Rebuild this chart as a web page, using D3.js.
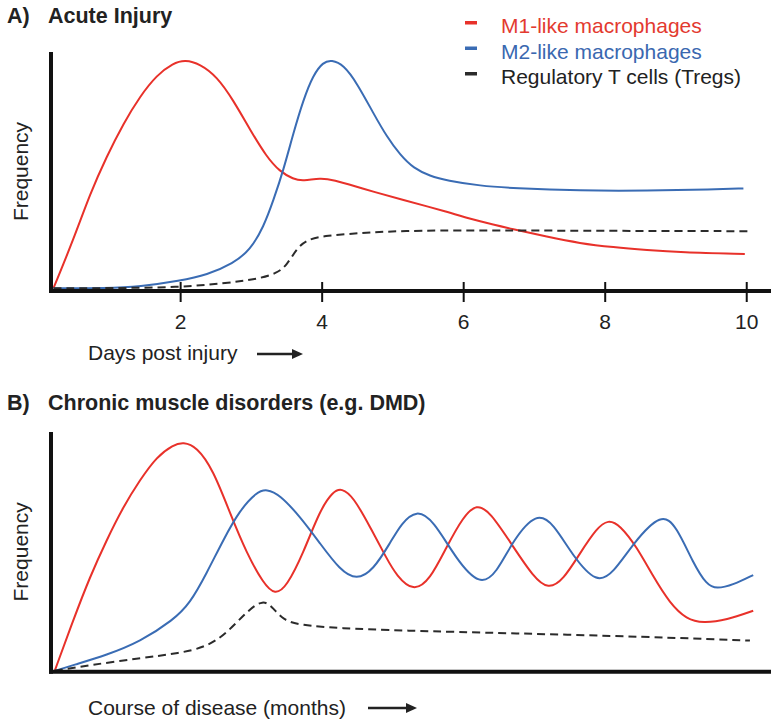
<!DOCTYPE html>
<html>
<head>
<meta charset="utf-8">
<script src="https://cdn.jsdelivr.net/npm/d3@7"></script>
<style>
  body { margin: 0; background: #fff; }
  svg { display: block; font-family: 'Liberation Sans', Arial, sans-serif; }
  .title { font-weight: bold; font-size: 21.5px; fill: #222; }
  .label { font-size: 21px; fill: #222; }
  .curve { fill: none; stroke-width: 2; }
</style>
</head>
<body>
<svg width="771" height="722"></svg>
<script>
// ---- data: [x, frequency] ----
// A) acute injury, x = days post injury
const acuteM1 = [[0.21,1.2],[0.49,22.2],[0.73,42.5],[0.96,58.4],[1.2,72.9],[1.43,84.5],[1.67,93.9],[1.9,99],
  [2.07,100.5],[2.28,98.7],[2.52,93.2],[2.75,83],[2.99,70],[3.22,58.4],[3.41,51.9],[3.6,48.6],[3.74,47.8],
  [3.98,49.2],[4.17,48.3],[4.5,45.3],[4.73,43.2],[5.11,39.9],[5.77,34.5],[6.24,30.1],[6.71,26.8],[7.18,23.6],
  [7.65,20.7],[8.12,19],[8.6,17.8],[9.07,16.8],[9.98,16.1]];
const acuteM2 = [[0.21,1.2],[0.96,1.2],[1.43,1.9],[2,4.5],[2.38,7],[2.75,12],[2.99,17.8],[3.18,27.9],
  [3.32,39.6],[3.46,52.6],[3.6,68.6],[3.74,83],[3.88,93.9],[4.02,99.5],[4.14,100.5],[4.31,98.3],[4.5,90.3],
  [4.73,77.3],[4.92,67.1],[5.11,59.1],[5.3,53.3],[5.53,50],[5.77,48],[6.24,45.7],[6.71,44.7],[7.65,43.6],
  [8.6,43.6],[9.54,44.2],[9.96,44.6]];
const acuteTregs = [[0.21,1.2],[0.96,1.2],[2,1.6],[2.61,3.3],[3.08,5.1],[3.37,7.7],[3.51,11.3],[3.65,18.6],
  [3.79,22.2],[4.02,24],[4.5,25.1],[5.11,26.2],[6.24,26.4],[7.5,26.2],[10.03,26]];
const dayTicks = [2, 4, 6, 8, 10];

// B) chronic disorders, x = course of disease (arbitrary units)
const chronicM1 = [[0,0.7],[2.61,22.6],[5,41.6],[7.39,57.7],[9.76,72.2],[12.14,83.9],[14.53,94.1],[16.9,99.3],
  [18.33,100.5],[20.24,98.5],[22.61,88.3],[25,69.4],[27.39,51.8],[29.76,38.7],[31.43,33.5],[33.1,37.2],
  [35.47,51.8],[37.86,70.8],[39.76,79],[40.96,80.3],[42.61,76.6],[45,63.5],[47.39,49.5],[48.81,42],
  [51.19,35],[53.57,40.1],[55.96,54.7],[58.33,67.9],[60.24,73.4],[62.14,70.1],[65.47,54.7],[68.33,41.6],
  [70.47,36],[72.61,40.1],[75,51.8],[77.39,62.8],[79.04,66.6],[80.71,64.2],[83.1,54.7],[85.47,41.6],
  [87.86,29.9],[90.24,22.9],[92.61,21.3],[95.96,22.6],[99.76,26.7]];
const chronicM2 = [[0,0.4],[2.61,2.9],[7.39,7.3],[12.14,13.1],[16.9,22.6],[19.29,29.9],[21.67,43.1],
  [24.04,57.7],[26.43,70.8],[28.81,78.6],[30.24,80],[32.14,77.4],[35,67.9],[37.86,56.2],[40.71,44.5],
  [43.1,40],[45.47,44.5],[47.86,56.2],[49.5,65],[51.67,70.9],[54.04,66.4],[57.39,48.9],[60.71,37.6],
  [63.1,43.1],[65.47,57.7],[68.81,69.8],[71.19,65],[74.04,50.4],[77.39,38.6],[79.76,43.1],[82.61,56.2],
  [86.67,69.8],[88.81,63.5],[91.19,47.5],[93.1,38],[94.53,36.2],[96.9,38],[99.76,42.3]];
const chronicTregs = [[0,0.4],[5,2.9],[12.14,5.9],[17.86,8.1],[21.67,10.9],[24.53,16.8],[27.39,26.3],
  [29.76,31.8],[31.19,27.8],[32.61,22.6],[35,20.4],[40.71,19],[49.29,18],[65.47,16.8],[84.53,15.3],[99.29,13.6]];

const seriesNames = ['M1-like macrophages', 'M2-like macrophages', 'Regulatory T cells (Tregs)'];
const seriesColors = ['#e8312a', '#3a6cb4', '#2b2b2b'];
const legendTextColors = ['#e33a2f', '#3a68b0', '#222'];

const svg = d3.select('svg');

const drawPanel = (opts) => {
  const { x, y, series, xLabel, labelY, arrow, ticks } = opts;
  const g = svg.append('g');

  const line = d3.line()
    .x(d => x(d[0]))
    .y(d => y(d[1]))
    .curve(d3.curveBasis);

  series.forEach((s, i) => {
    g.append('path')
      .attr('class', 'curve')
      .attr('d', line(s))
      .attr('stroke', seriesColors[i])
      .attr('stroke-width', i === 2 ? 2.5 : 2)
      .attr('stroke-dasharray', i === 2 ? '8,5' : null);
  });

  // axes
  const [x0, x1] = x.range();
  const [yBase, yTop] = y.range();

  const xAxis = d3.axisBottom(x).tickValues(ticks || []).tickSize(20).tickPadding(6).tickFormat(d3.format('d'));
  const xAxisG = g.append('g').attr('transform', `translate(0,${yBase})`).call(xAxis);
  xAxisG.select('.domain').remove();
  xAxisG.selectAll('.tick line').attr('y1', -9).attr('y2', 11).attr('stroke', '#111').attr('stroke-width', 2);
  xAxisG.selectAll('.tick text')
    .attr('y', 38).attr('dy', 0)
    .attr('font-size', 21).attr('fill', '#222')
    .attr('font-family', "'Liberation Sans', Arial, sans-serif");

  g.append('line')
    .attr('x1', x0 - 2).attr('x2', x1)
    .attr('y1', yBase).attr('y2', yBase)
    .attr('stroke', '#111').attr('stroke-width', 4);

  const yAxisG = g.append('g').attr('transform', `translate(${x0},0)`)
    .call(d3.axisLeft(y).ticks(0).tickSizeOuter(0));
  yAxisG.select('.domain').attr('stroke', '#111').attr('stroke-width', 4)
    .attr('d', `M0,${yBase + 2}V${yTop}`);

  g.append('text')
    .attr('class', 'label')
    .attr('transform', `translate(28,${(yBase + yTop) / 2}) rotate(-90)`)
    .attr('text-anchor', 'middle')
    .text('Frequency');

  g.append('text')
    .attr('class', 'label')
    .attr('x', 88).attr('y', labelY)
    .text(xLabel);

  // arrow after the x label
  g.append('line')
    .attr('x1', arrow[0]).attr('x2', arrow[1] - 8)
    .attr('y1', arrow[2]).attr('y2', arrow[2])
    .attr('stroke', '#222').attr('stroke-width', 2.5);
  g.append('path')
    .attr('d', `M${arrow[1] - 11},${arrow[2] - 5}L${arrow[1]},${arrow[2]}L${arrow[1] - 11},${arrow[2] + 5}Z`)
    .attr('fill', '#222');
};

// panel A
const xA = d3.scaleLinear().domain([0.175, 10.35]).range([51, 771]);
const yA = d3.scaleLinear().domain([0, 103.9]).range([291, 52]);

svg.append('text').attr('class', 'title').attr('x', 7).attr('y', 23).text('A)');
svg.append('text').attr('class', 'title').attr('x', 48).attr('y', 23).text('Acute Injury');

drawPanel({
  x: xA, y: yA,
  series: [acuteM1, acuteM2, acuteTregs],
  xLabel: 'Days post injury',
  labelY: 360,
  arrow: [257, 303, 354],
  ticks: dayTicks,
});

// legend
const legend = svg.append('g').attr('transform', 'translate(465,0)');
seriesNames.forEach((name, i) => {
  const row = legend.append('g').attr('transform', `translate(0,${21 + i * 25.5})`);
  row.append('rect').attr('width', 12).attr('height', 3.5).attr('fill', seriesColors[i]);
  row.append('text')
    .attr('class', 'label')
    .attr('x', 36).attr('y', 12)
    .style('fill', legendTextColors[i])
    .text(name);
});

// panel B
const xB = d3.scaleLinear().domain([-0.57, 102.3]).range([51, 771]);
const yB = d3.scaleLinear().domain([0, 104.9]).range([671.7, 432]);

svg.append('text').attr('class', 'title').attr('x', 7).attr('y', 410).text('B)');
svg.append('text').attr('class', 'title').attr('x', 48).attr('y', 410).text('Chronic muscle disorders (e.g. DMD)');

drawPanel({
  x: xB, y: yB,
  series: [chronicM1, chronicM2, chronicTregs],
  xLabel: 'Course of disease (months)',
  labelY: 715,
  arrow: [368, 417, 708],
});
</script>
</body>
</html>
